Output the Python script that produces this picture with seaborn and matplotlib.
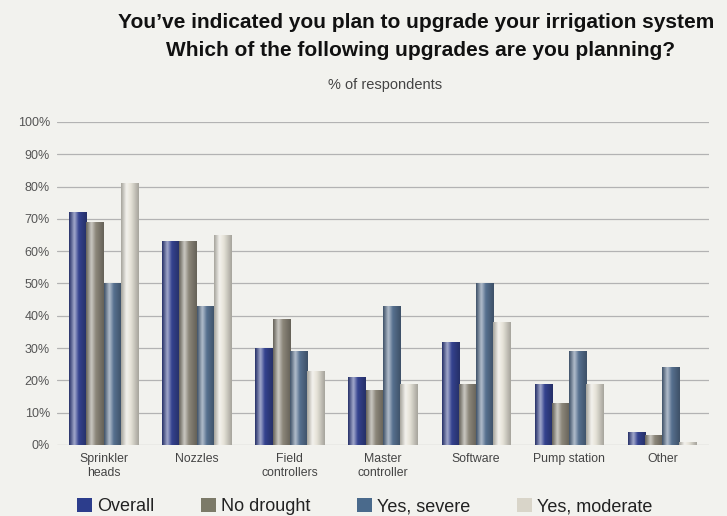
import numpy as np
import pandas as pd
import matplotlib
matplotlib.use("Agg")
import matplotlib.pyplot as plt
from matplotlib.colors import LinearSegmentedColormap, to_rgb
from matplotlib.patches import Patch
import seaborn as sns

# Survey data (% of respondents)
categories = ["Sprinkler\nheads", "Nozzles", "Field\ncontrollers", "Master\ncontroller",
              "Software", "Pump station", "Other"]
overall = [72, 63, 30, 21, 32, 19, 4]
no_drought = [69, 63, 39, 17, 19, 13, 3]
yes_severe = [50, 43, 29, 43, 50, 29, 24]
yes_moderate = [81, 65, 23, 19, 38, 19, 1]
series_names = ["Overall", "No drought", "Yes, severe", "Yes, moderate"]
y_ticks = [0, 10, 20, 30, 40, 50, 60, 70, 80, 90, 100]

colors = ["#34428f", "#8c877a", "#56708f", "#e6e3d8"]
legend_colors = ["#2c3d8c", "#7c7a68", "#4a6a8c", "#d9d5c9"]

df = pd.DataFrame({
    "category": np.repeat(categories, 4),
    "series": series_names * len(categories),
    "value": np.column_stack([overall, no_drought, yes_severe, yes_moderate]).ravel(),
})

sns.set_theme(style="white")
plt.rcParams["font.family"] = ["Liberation Sans", "DejaVu Sans"]

bg = "#f2f2ee"
fig = plt.figure(figsize=(7.27, 5.16), dpi=100, facecolor=bg)
ax = fig.add_axes([0.0784, 0.1376, 0.8966, 0.626], facecolor=bg)

sns.barplot(data=df, x="category", y="value", hue="series", order=categories,
            hue_order=series_names, palette=colors, width=0.74, gap=0,
            saturation=1, legend=False, ax=ax, zorder=3, edgecolor="none")

ax.set_ylim(0, 100)
ax.set_xlim(-0.5, len(categories) - 0.5)
ax.set_yticks(y_ticks)
ax.set_yticklabels([f"{t}%" for t in y_ticks], color="#555555", fontsize=9)
ax.tick_params(axis="y", length=0, pad=5)
ax.tick_params(axis="x", length=0, pad=6, labelsize=8.8, labelcolor="#444444")
ax.set_xlabel("")
ax.set_ylabel("")
ax.yaxis.grid(True, color="#b3b3b3", linewidth=0.9, zorder=0)
for s in ax.spines.values():
    s.set_visible(False)

# Cylinder-style shading on each bar
for patch in ax.patches:
    x0, y0 = patch.get_x(), patch.get_y()
    w, h = patch.get_width(), patch.get_height()
    if h <= 0:
        continue
    base = np.array(to_rgb(patch.get_facecolor()))
    dark = base * 0.72
    light = base + (1 - base) * 0.55
    cmap = LinearSegmentedColormap.from_list(
        "cyl", [(0.0, dark), (0.3, light), (0.55, base), (1.0, dark)])
    grad = np.linspace(0, 1, 64).reshape(1, -1)
    im = ax.imshow(grad, cmap=cmap, aspect="auto", extent=[x0, x0 + w, y0, y0 + h],
                   zorder=3.5, interpolation="bicubic")
    im.set_clip_path(patch)
ax.set_xlim(-0.5, len(categories) - 0.5)
ax.set_ylim(0, 100)

fig.text(0.573, 0.957, "You\u2019ve indicated you plan to upgrade your irrigation system",
         ha="center", va="center", fontsize=15, fontweight="bold", color="#111111")
fig.text(0.578, 0.903, "Which of the following upgrades are you planning?",
         ha="center", va="center", fontsize=15, fontweight="bold", color="#111111")
fig.text(0.53, 0.835, "% of respondents", ha="center", va="center",
         fontsize=10.5, color="#444444")

handles = [Patch(facecolor=c, edgecolor="none") for c in legend_colors]
fig.legend(handles, series_names, loc="center", bbox_to_anchor=(0.502, 0.018), ncol=4,
           frameon=False, fontsize=13, handlelength=0.8, handleheight=0.8,
           handletextpad=0.3, columnspacing=2.6, labelcolor="#222222")

fig.savefig("out.png", dpi=100, facecolor=bg)
